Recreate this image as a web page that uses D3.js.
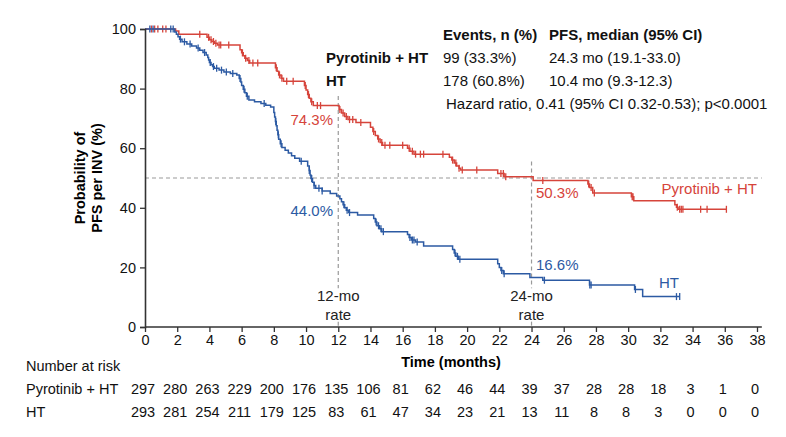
<!DOCTYPE html>
<html><head><meta charset="utf-8">
<script src="https://cdn.jsdelivr.net/npm/d3@7"></script>
<style>body{margin:0;background:#fff}svg{display:block}text{font-family:"Liberation Sans",Arial,Helvetica,sans-serif}</style>
</head><body>
<svg id="c" width="786" height="437"></svg>
<script>
// ---- data ----
const timeTicks = [0,2,4,6,8,10,12,14,16,18,20,22,24,26,28,30,32,34,36,38];
const yTicks = [0,20,40,60,80,100];
const riskPyro = [297,280,263,229,200,176,135,106,81,62,46,44,39,37,28,28,18,3,1,0];
const riskHT = [293,281,254,211,179,125,83,61,47,34,23,21,13,11,8,8,3,0,0,0];

// event steps: [time (months), survival (%) after event]
const pyroSteps = [[0,100],[1.9,99.3],[2.1,98.2],[3.85,97.2],[4.0,96.4],[4.15,95.8],[4.3,95.2],[4.5,94.6],
 [5.9,93],[6.0,92],[6.1,91],[6.2,90.2],[6.35,89.4],[6.5,88.6],
 [8.1,87],[8.2,85.8],[8.3,84.6],[8.45,83.5],[8.6,82.5],
 [9.9,81],[10.0,79.5],[10.1,78],[10.2,76.8],[10.3,75.6],[10.45,74.3],
 [12.05,73],[12.2,71.8],[12.4,70.6],[12.6,69.6],[13.1,68.6],
 [14.0,67],[14.15,65.6],[14.3,64.3],[14.45,63.1],[14.6,61.9],[14.75,61],
 [16.3,60],[16.45,59],[16.7,58],
 [18.9,57],[19.05,56],[19.2,55],[19.35,54],[19.5,53.3],[19.6,52.7],
 [21.9,51.5],[22.3,50.4],[24.1,49.2],
 [27.5,48],[27.6,46.8],[27.8,45],[30.2,43.7],[30.35,42.4],
 [32.9,41],[33.0,40.2],[33.1,39.5]];
const pyroEnd = 36.1;
const pyroCensor = [0.4,0.6,0.8,1.1,1.3,3.4,3.95,4.1,4.25,4.4,4.6,4.7,5.2,6.05,6.25,6.45,6.7,7.0,
 8.15,8.35,8.5,8.8,9.2,9.95,10.15,10.35,10.7,10.9,12.1,12.3,12.5,12.7,12.9,13.4,
 14.2,14.5,14.7,14.9,15.2,16.0,16.4,16.6,16.8,17.1,17.3,18.5,19.1,19.3,19.5,19.7,20.6,
 22.1,22.25,22.4,24.7,27.55,27.7,27.9,30.25,30.3,33.05,33.2,33.3,33.4,34.5,34.9,36.1];

const htSteps = [[0,100],[1.85,99],[1.95,98.2],[2.05,97.4],[2.15,96.6],[2.3,95.7],
 [2.6,95.0],[2.9,94.3],[3.2,93.6],[3.4,92.9],[3.6,92.1],[3.8,91.3],
 [3.9,90.4],[3.95,89.6],[4.0,88.8],[4.1,88.0],[4.2,87.4],[4.3,86.8],
 [4.6,86.2],[4.9,85.6],[5.3,85.1],[5.7,84.6],
 [5.85,83.4],[5.95,82.2],[6.0,81.0],[6.1,79.8],[6.2,78.6],[6.3,77.4],[6.45,76.2],
 [6.8,75.6],[7.2,75.0],[7.5,74.4],[7.8,73.8],
 [8.0,72],[8.05,70.5],[8.1,69],[8.15,67.5],[8.2,66],[8.25,64.5],[8.3,63],[8.4,61.5],[8.5,60.2],
 [8.7,59.3],[8.9,58.4],[9.1,57.5],[9.3,56.6],[9.6,55.6],
 [10.1,54],[10.2,52.5],[10.25,51],[10.3,49.8],[10.4,48.6],[10.5,47.5],[10.6,46.6],
 [11.0,45.6],[11.5,44.8],[11.9,44.0],
 [12.1,43],[12.2,42],[12.3,41],[12.4,40],[12.5,39.2],[12.65,38.4],[13.2,37.6],
 [14.2,36.4],[14.3,35.2],[14.4,34.0],[14.55,33.0],[14.7,32.0],
 [16.3,31.0],[16.4,30.0],[16.55,29.2],[16.8,28.5],[17.3,27.2],
 [19.1,26],[19.2,24.8],[19.3,23.7],[19.45,22.7],
 [21.9,21.2],[22.0,20.0],[22.1,19.0],[22.25,17.9],[23.9,16.6],
 [24.7,15.7],[27.6,14.1],[30.4,12.6],[30.9,10.2]];
const htEnd = 33.2;
const htCensor = [0.3,0.5,1.6,1.75,2.2,2.45,2.8,3.3,3.7,4.05,4.25,4.45,4.75,5.05,5.45,5.9,6.15,6.35,7.4,
 8.12,8.28,8.45,9.7,10.2,10.35,10.5,10.8,11.0,12.35,12.55,12.7,14.35,14.5,14.65,14.8,
 16.45,16.6,16.7,16.9,19.25,19.4,19.55,22.15,22.3,24.8,27.62,27.7,30.45,33.0,33.2];

const red = "#d6443b", blue = "#2c5aa3";

// ---- drawing ----
const svg = d3.select("#c");
const x = d3.scaleLinear().domain([0,38]).range([145,757]);
const y = d3.scaleLinear().domain([0,100]).range([327,29]);

// reference dashed lines
const dash = svg.append("g").attr("stroke","#9a9a9a").attr("stroke-width",1.2).attr("stroke-dasharray","4,3").attr("fill","none");
dash.append("line").attr("x1",x(0)).attr("x2",x(38.3)).attr("y1",y(50)).attr("y2",y(50));
[[12,77.5],[24,55.5]].forEach(([t,top])=>{
  dash.append("line").attr("x1",x(t)).attr("x2",x(t)).attr("y1",y(top)).attr("y2",y(13));
  dash.append("line").attr("x1",x(t)).attr("x2",x(t)).attr("y1",y(1.8)).attr("y2",y(0));
});

function survAt(steps,t){let s=100;for(const d of steps){if(d[0]<=t)s=d[1];else break;}return s;}
const line = d3.line().x(d=>x(d[0])).y(d=>y(d[1])).curve(d3.curveStepAfter);
function drawArm(steps,end,cens,col){
  const pts = steps.concat([[end,steps[steps.length-1][1]]]);
  const g = svg.append("g");
  g.append("path").attr("d",line(pts)).attr("fill","none").attr("stroke",col).attr("stroke-width",1.5);
  g.selectAll("line").data(cens).join("line")
   .attr("x1",d=>x(d)).attr("x2",d=>x(d))
   .attr("y1",d=>y(survAt(steps,d))-3.5).attr("y2",d=>y(survAt(steps,d))+3.5)
   .attr("stroke",col).attr("stroke-width",1.3);
}
drawArm(pyroSteps,pyroEnd,pyroCensor,red);
drawArm(htSteps,htEnd,htCensor,blue);

// axes
const xAxis = svg.append("g").attr("transform",`translate(0,${y(0)})`)
  .call(d3.axisBottom(x).tickValues(timeTicks).tickSize(5).tickPadding(3));
xAxis.select(".domain").attr("d",`M${x(0)},0H${x(38.3)}`);
const yAxis = svg.append("g").attr("transform",`translate(${x(0)},0)`)
  .call(d3.axisLeft(y).tickValues(yTicks).tickSize(5).tickPadding(4));
[xAxis,yAxis].forEach(a=>{
  a.select(".domain").attr("stroke","#333").attr("stroke-width",1.6);
  a.selectAll(".tick line").attr("stroke","#333").attr("stroke-width",1.3);
  a.selectAll(".tick text").attr("font-size",14.5).attr("fill","#111").attr("font-family",'"Liberation Sans",Arial,sans-serif');
});

// axis titles
svg.append("text").attr("x",(x(0)+x(38))/2).attr("y",367).attr("text-anchor","middle")
  .attr("font-size",14.5).attr("font-weight","bold").text("Time (months)");
const yt = svg.append("g").attr("transform",`translate(0,${y(50)}) rotate(-90)`)
  .attr("font-size",14.5).attr("font-weight","bold").attr("text-anchor","middle");
yt.append("text").attr("x",0).attr("y",85).text("Probability of");
yt.append("text").attr("x",0).attr("y",102).text("PFS per INV (%)");

// annotations
const ann = svg.append("g").attr("font-size",15);
ann.append("text").attr("x",333).attr("y",125).attr("text-anchor","end").attr("fill",red).text("74.3%");
ann.append("text").attr("x",333).attr("y",216).attr("text-anchor","end").attr("fill",blue).text("44.0%");
ann.append("text").attr("x",536).attr("y",198).attr("fill",red).text("50.3%");
ann.append("text").attr("x",536).attr("y",270).attr("fill",blue).text("16.6%");
ann.append("text").attr("x",757).attr("y",194).attr("text-anchor","end").attr("fill",red).text("Pyrotinib + HT");
ann.append("text").attr("x",659).attr("y",288).attr("fill",blue).text("HT");
[12,24].forEach(t=>{
  ann.append("text").attr("x",x(t)).attr("y",301).attr("text-anchor","middle").attr("fill","#222").text(t+"-mo");
  ann.append("text").attr("x",x(t)).attr("y",320).attr("text-anchor","middle").attr("fill","#222").text("rate");
});

// top table
const tb = svg.append("g").attr("font-size",15).attr("fill","#111");
tb.append("text").attr("x",443).attr("y",40).attr("font-weight","bold").text("Events, n (%)");
tb.append("text").attr("x",549).attr("y",40).attr("font-weight","bold").text("PFS, median (95% CI)");
tb.append("text").attr("x",326).attr("y",63).attr("font-weight","bold").text("Pyrotinib + HT");
tb.append("text").attr("x",443).attr("y",63).text("99 (33.3%)");
tb.append("text").attr("x",549).attr("y",63).text("24.3 mo (19.1-33.0)");
tb.append("text").attr("x",326).attr("y",86).attr("font-weight","bold").text("HT");
tb.append("text").attr("x",443).attr("y",86).text("178 (60.8%)");
tb.append("text").attr("x",549).attr("y",86).text("10.4 mo (9.3-12.3)");
tb.append("text").attr("x",446).attr("y",109).text("Hazard ratio, 0.41 (95% CI 0.32-0.53); p<0.0001");

// risk table
const rt = svg.append("g").attr("font-size",14.5).attr("fill","#111");
rt.append("text").attr("x",26).attr("y",371).text("Number at risk");
rt.append("text").attr("x",26).attr("y",394).text("Pyrotinib + HT");
rt.append("text").attr("x",26).attr("y",417).text("HT");
rt.selectAll(".rp").data(riskPyro).join("text").attr("class","rp")
  .attr("x",(d,i)=>x(timeTicks[i])-2).attr("y",394).attr("text-anchor","middle").text(d=>d);
rt.selectAll(".rh").data(riskHT).join("text").attr("class","rh")
  .attr("x",(d,i)=>x(timeTicks[i])-2).attr("y",417).attr("text-anchor","middle").text(d=>d);
</script>
</body></html>
